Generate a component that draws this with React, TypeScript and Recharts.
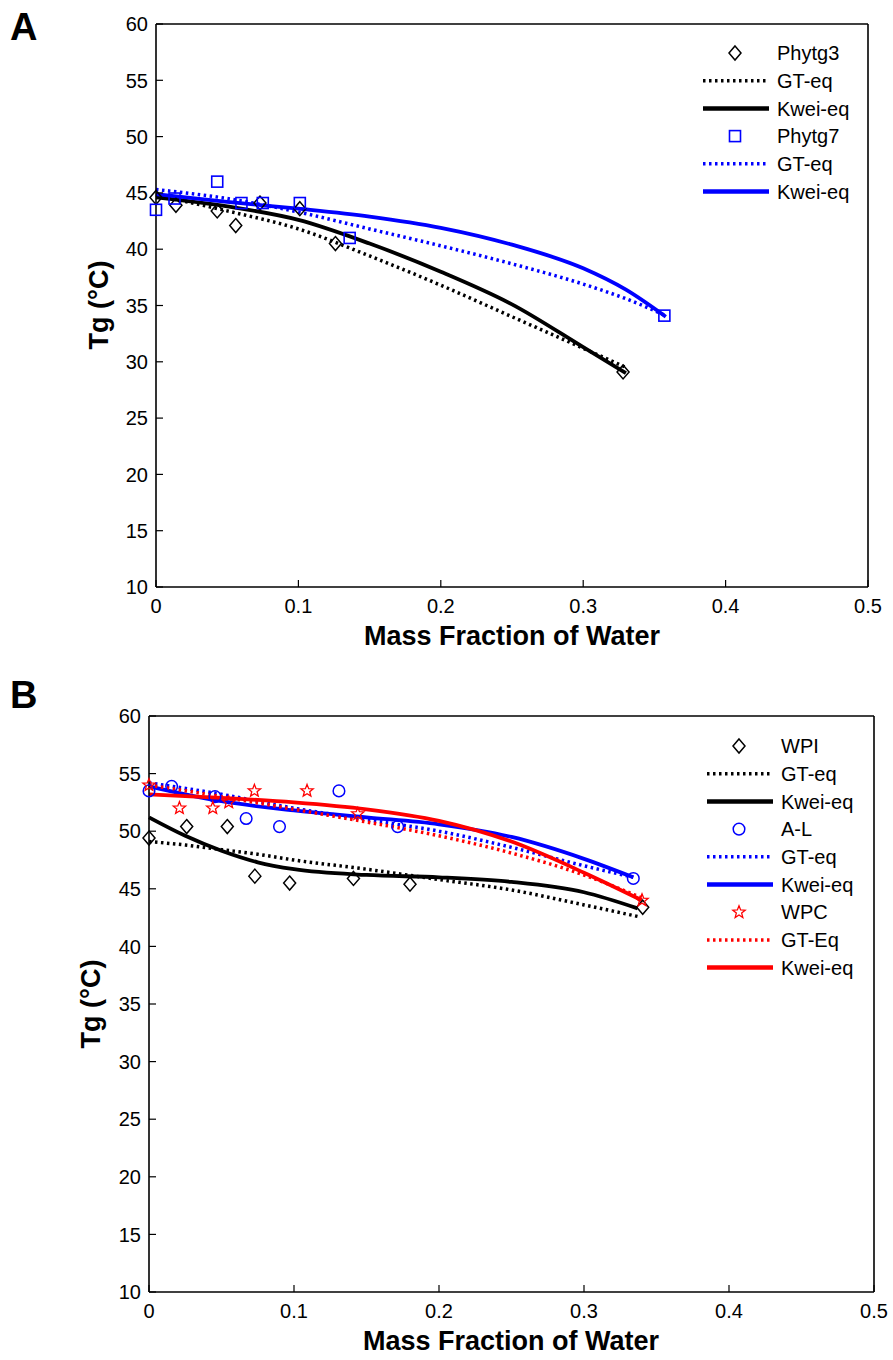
import React from "react";
import { ComposedChart, Line, Scatter, XAxis, YAxis } from "recharts";

const xTicks = [0, 0.1, 0.2, 0.3, 0.4, 0.5];
const yTicks = [10, 15, 20, 25, 30, 35, 40, 45, 50, 55, 60];

// panel A - measured points
const phytg3X = [0, 0.014, 0.043, 0.056, 0.073, 0.101, 0.126, 0.328];
const phytg3Y = [44.6, 43.9, 43.4, 42.1, 44.1, 43.6, 40.5, 29.1];
const phytg7X = [0, 0.013, 0.043, 0.06, 0.075, 0.101, 0.136, 0.357];
const phytg7Y = [43.5, 44.5, 46.0, 44.1, 44.1, 44.1, 41.0, 34.1];

// panel A - fitted curves
const fitA3X = [0, 0.05, 0.1, 0.15, 0.2, 0.25, 0.3, 0.33];
const gtA3Y = [44.8, 43.4, 41.8, 39.4, 36.8, 34.0, 31.2, 29.5];
const kweiA3Y = [44.6, 43.8, 42.6, 40.5, 38.0, 35.1, 31.3, 29.0];
const fitA7X = [0, 0.05, 0.1, 0.15, 0.2, 0.25, 0.3, 0.33, 0.358];
const gtA7Y = [45.3, 44.5, 43.3, 41.8, 40.3, 38.7, 36.9, 35.6, 34.1];
const kweiA7Y = [44.9, 44.2, 43.6, 42.9, 41.9, 40.4, 38.3, 36.4, 34.0];

// panel B - measured points
const wpiX = [0, 0.026, 0.054, 0.073, 0.097, 0.141, 0.18, 0.3405];
const wpiY = [49.4, 50.4, 50.4, 46.1, 45.5, 45.9, 45.4, 43.4];
const alX = [0, 0.0156, 0.0455, 0.067, 0.09, 0.131, 0.1715, 0.334];
const alY = [53.5, 53.9, 53.0, 51.1, 50.4, 53.5, 50.4, 45.9];
const wpcX = [0, 0.021, 0.044, 0.055, 0.0727, 0.109, 0.144, 0.34];
const wpcY = [54.0, 52.0, 52.0, 52.5, 53.5, 53.5, 51.5, 44.0];

// panel B - fitted curves
const fitWpiX = [0, 0.025, 0.05, 0.075, 0.1, 0.15, 0.2, 0.25, 0.3, 0.337];
const gtWpiY = [49.1, 48.8, 48.4, 48.0, 47.5, 46.7, 45.8, 44.9, 43.6, 42.6];
const kweiWpiY = [51.2, 49.6, 48.3, 47.3, 46.7, 46.2, 46.0, 45.6, 44.7, 43.3];
const fitAlX = [0, 0.05, 0.1, 0.15, 0.2, 0.25, 0.3, 0.334];
const gtAlY = [54.2, 53.2, 52.0, 51.0, 50.0, 48.6, 47.0, 46.0];
const kweiAlY = [53.9, 52.6, 51.8, 51.2, 50.6, 49.5, 47.6, 46.0];
const fitWpcX = [0, 0.05, 0.1, 0.15, 0.2, 0.25, 0.3, 0.34];
const gtWpcY = [54.0, 53.0, 51.9, 50.8, 49.6, 48.1, 46.2, 44.2];
const kweiWpcY = [53.2, 52.9, 52.5, 51.9, 50.9, 49.1, 46.4, 44.0];

const legendA = ["Phytg3", "GT-eq", "Kwei-eq", "Phytg7", "GT-eq", "Kwei-eq"];
const legendB = ["WPI", "GT-eq", "Kwei-eq", "A-L", "GT-eq", "Kwei-eq", "WPC", "GT-Eq", "Kwei-eq"];

const pts = (xs: number[], ys: number[]) => xs.map((x, i) => ({ x, y: ys[i] }));

const FONT = "'Liberation Sans', Arial, sans-serif";
const BLUE = "#0000ff";
const RED = "#ff0000";
const DOTS = "2.5 3.5";

const Diamond = ({ cx, cy, color = "#000" }: any) => (
  <polygon
    points={`${cx},${cy - 7} ${cx + 6},${cy} ${cx},${cy + 7} ${cx - 6},${cy}`}
    fill="none"
    stroke={color}
    strokeWidth={1.5}
  />
);
const Square = ({ cx, cy, color = BLUE }: any) => (
  <rect x={cx - 5.5} y={cy - 5.5} width={11} height={11} fill="none" stroke={color} strokeWidth={1.6} />
);
const Circle = ({ cx, cy, color = BLUE }: any) => (
  <circle cx={cx} cy={cy} r={5.8} fill="none" stroke={color} strokeWidth={1.5} />
);
const Star = ({ cx, cy, color = RED }: any) => {
  const p: string[] = [];
  for (let i = 0; i < 10; i++) {
    const r = i % 2 === 0 ? 6.5 : 2.8;
    const a = -Math.PI / 2 + (i * Math.PI) / 5;
    p.push(`${cx + r * Math.cos(a)},${cy + r * Math.sin(a)}`);
  }
  return <polygon points={p.join(" ")} fill="none" stroke={color} strokeWidth={1.3} />;
};

const BottomTick = ({ x, y, payload }: any) => (
  <g>
    <line x1={x} x2={x} y1={y} y2={y - 7} stroke="#000" strokeWidth={1.2} />
    <text x={x} y={y + 26} textAnchor="middle" fontSize={20} fontFamily={FONT} fill="#000">
      {String(payload.value)}
    </text>
  </g>
);
const TopTick = ({ x, y }: any) => <line x1={x} x2={x} y1={y} y2={y + 7} stroke="#000" strokeWidth={1.2} />;
const LeftTick = ({ x, y, payload }: any) => (
  <g>
    <line x1={x} x2={x + 7} y1={y} y2={y} stroke="#000" strokeWidth={1.2} />
    <text x={x - 8} y={y} dy="0.36em" textAnchor="end" fontSize={20} fontFamily={FONT} fill="#000">
      {String(payload.value)}
    </text>
  </g>
);
const RightTick = ({ x, y }: any) => <line x1={x} x2={x - 7} y1={y} y2={y} stroke="#000" strokeWidth={1.2} />;

const axisLine = { stroke: "#000", strokeWidth: 1.6 };

type Series = { kind: "line" | "scatter"; data: { x: number; y: number }[]; color: string; dotted?: boolean; shape?: any };

// axes take 1px each, so margins are 1px smaller than the plot box edges
const Panel = ({ top, margin, series }: { top: number; margin: any; series: Series[] }) => (
  <div style={{ position: "absolute", left: 0, top }}>
    <ComposedChart width={893} height={680} margin={margin}>
      <XAxis
        type="number"
        dataKey="x"
        domain={[0, 0.5]}
        ticks={xTicks}
        interval={0}
        height={1}
        tickSize={0}
        tickMargin={0}
        tickLine={false}
        axisLine={axisLine}
        tick={BottomTick}
      />
      <XAxis
        xAxisId="top"
        orientation="top"
        type="number"
        dataKey="x"
        domain={[0, 0.5]}
        ticks={xTicks}
        interval={0}
        height={1}
        tickSize={0}
        tickMargin={0}
        tickLine={false}
        axisLine={axisLine}
        tick={TopTick}
      />
      <YAxis
        type="number"
        dataKey="y"
        domain={[10, 60]}
        ticks={yTicks}
        interval={0}
        width={1}
        tickSize={0}
        tickMargin={0}
        tickLine={false}
        axisLine={axisLine}
        tick={LeftTick}
      />
      <YAxis
        yAxisId="right"
        orientation="right"
        type="number"
        dataKey="y"
        domain={[10, 60]}
        ticks={yTicks}
        interval={0}
        width={1}
        tickSize={0}
        tickMargin={0}
        tickLine={false}
        axisLine={axisLine}
        tick={RightTick}
      />
      {series.map((s, i) =>
        s.kind === "line" ? (
          <Line
            key={i}
            data={s.data}
            dataKey="y"
            type="monotone"
            stroke={s.color}
            strokeWidth={s.dotted ? 3.5 : 3.8}
            strokeDasharray={s.dotted ? DOTS : undefined}
            dot={false}
            activeDot={false}
            isAnimationActive={false}
          />
        ) : (
          <Scatter
            key={i}
            data={s.data}
            dataKey="y"
            shape={(p: any) => <s.shape cx={p.cx} cy={p.cy} color={s.color} />}
            isAnimationActive={false}
          />
        )
      )}
    </ComposedChart>
  </div>
);

const LegendRow = ({ y, label, item, x0 }: any) => (
  <g>
    {item.kind === "scatter" ? (
      <item.shape cx={x0 + 32} cy={y} color={item.color} />
    ) : (
      <line
        x1={x0}
        x2={x0 + 66}
        y1={y}
        y2={y}
        stroke={item.color}
        strokeWidth={item.dotted ? 3.5 : 4.5}
        strokeDasharray={item.dotted ? DOTS : undefined}
      />
    )}
    <text x={x0 + 74} y={y} dy="0.36em" fontSize={20} fontFamily={FONT} fill="#000">
      {label}
    </text>
  </g>
);

const Overlay = ({ letter, letterY, yTitleX, yTitleY, xTitleX, xTitleY, legend, items, legX, legY }: any) => (
  <g>
    <text x={10} y={letterY} fontSize={38} fontWeight="bold" fontFamily={FONT}>
      {letter}
    </text>
    <text
      x={yTitleX}
      y={yTitleY}
      transform={`rotate(-90 ${yTitleX} ${yTitleY})`}
      textAnchor="middle"
      fontSize={27}
      fontWeight="bold"
      fontFamily={FONT}
    >
      Tg (°C)
    </text>
    <text x={xTitleX} y={xTitleY} textAnchor="middle" fontSize={27} fontWeight="bold" fontFamily={FONT}>
      Mass Fraction of Water
    </text>
    {legend.map((label: string, i: number) => (
      <LegendRow key={i} y={legY + i * 27.7} label={label} item={items[i]} x0={legX} />
    ))}
  </g>
);

export default function App() {
  const seriesA: Series[] = [
    { kind: "scatter", data: pts(phytg3X, phytg3Y), color: "#000", shape: Diamond },
    { kind: "line", data: pts(fitA3X, gtA3Y), color: "#000", dotted: true },
    { kind: "line", data: pts(fitA3X, kweiA3Y), color: "#000" },
    { kind: "scatter", data: pts(phytg7X, phytg7Y), color: BLUE, shape: Square },
    { kind: "line", data: pts(fitA7X, gtA7Y), color: BLUE, dotted: true },
    { kind: "line", data: pts(fitA7X, kweiA7Y), color: BLUE },
  ];
  const seriesB: Series[] = [
    { kind: "scatter", data: pts(wpiX, wpiY), color: "#000", shape: Diamond },
    { kind: "line", data: pts(fitWpiX, gtWpiY), color: "#000", dotted: true },
    { kind: "line", data: pts(fitWpiX, kweiWpiY), color: "#000" },
    { kind: "scatter", data: pts(alX, alY), color: BLUE, shape: Circle },
    { kind: "line", data: pts(fitAlX, gtAlY), color: BLUE, dotted: true },
    { kind: "line", data: pts(fitAlX, kweiAlY), color: BLUE },
    { kind: "scatter", data: pts(wpcX, wpcY), color: RED, shape: Star },
    { kind: "line", data: pts(fitWpcX, gtWpcY), color: RED, dotted: true },
    { kind: "line", data: pts(fitWpcX, kweiWpcY), color: RED },
  ];
  return (
    <div style={{ position: "absolute", left: 0, top: 0, width: 893, height: 1360, background: "#fff" }}>
      <Panel top={0} margin={{ top: 23, right: 24, bottom: 92, left: 155 }} series={seriesA} />
      <Panel top={680} margin={{ top: 35, right: 18, bottom: 67, left: 148 }} series={seriesB} />
      <svg width={893} height={1360} style={{ position: "absolute", left: 0, top: 0, pointerEvents: "none" }}>
        <Overlay
          letter="A"
          letterY={40}
          yTitleX={108}
          yTitleY={305}
          xTitleX={512}
          xTitleY={645}
          legend={legendA}
          items={seriesA}
          legX={703}
          legY={53}
        />
        <Overlay
          letter="B"
          letterY={708}
          yTitleX={100}
          yTitleY={1004}
          xTitleX={511}
          xTitleY={1350}
          legend={legendB}
          items={seriesB}
          legX={707}
          legY={746}
        />
      </svg>
    </div>
  );
}
